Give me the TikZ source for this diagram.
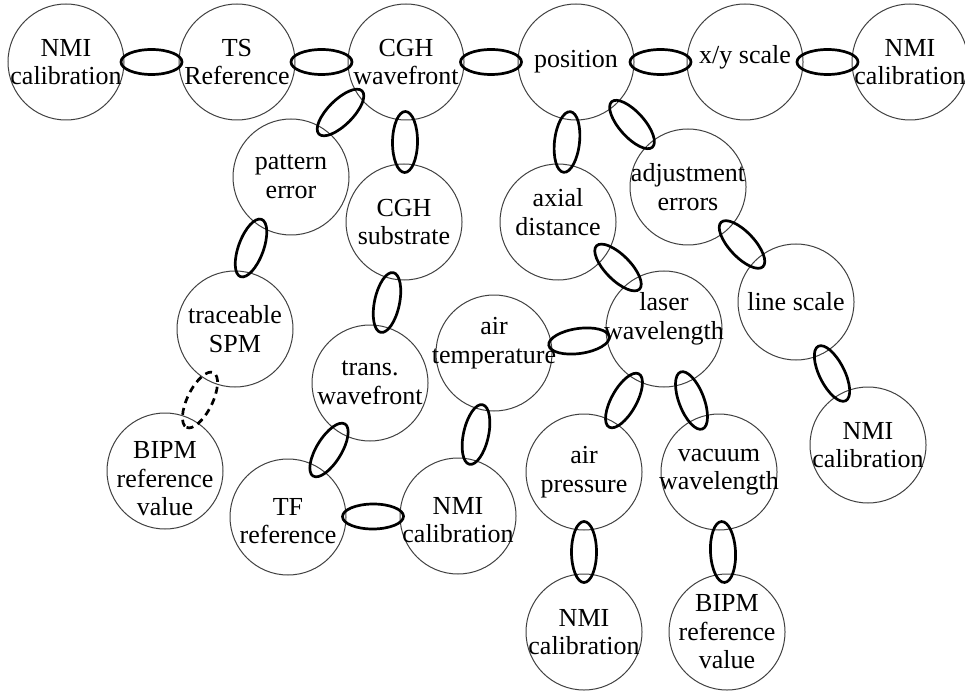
\documentclass[tikz,border=0pt]{standalone}
\usepackage{fontspec}
\setmainfont{Liberation Serif}
\usetikzlibrary{shapes.geometric,calc}
\tikzset{
  ring/.style={circle,draw=black!75,line width=1pt,minimum size=116pt,inner sep=0pt},
  lbl/.style={align=center,inner sep=0pt,font=\fontsize{26}{28.5}\selectfont,text=black},
  lnk/.style={ellipse,draw=black,line width=2.7pt,minimum width=61pt,minimum height=25pt,inner sep=0pt},
  dlnk/.style={dash pattern=on 7pt off 5pt}
}
\newcommand\chainlink[4][]{\path let \p1=($(#4)-(#3)$), \n1={atan2(\y1,\x1)} in node[lnk,#1,rotate=\n1] (#2) at ($(#3)!0.5!(#4)$) {};}
\newcommand\ringnode[4][0]{\node[ring] (#2) at (#3) {};\node[lbl] (#2-t) at ([yshift=#1pt]#2.center) {#4};}
\begin{document}
\begin{tikzpicture}[x=1pt,y=-1pt]
\useasboundingbox[fill=white] (0,0) rectangle (965,692);
% circles
\ringnode{nmiA}{66,62}{NMI\\calibration}
\ringnode{ts}{237,62}{TS\\Reference}
\ringnode{cghw}{406,62}{CGH\\wavefront}
\ringnode{pos}{576,62}{position}
\ringnode[5]{xy}{745,62}{x/y scale}
\ringnode{nmiB}{910,62}{NMI\\calibration}
\ringnode{pat}{291,177}{pattern\\error}
\ringnode{cghs}{404,222}{CGH\\substrate}
\ringnode{spm}{235,329}{traceable\\SPM}
\ringnode[-8]{bipmA}{165,471}{BIPM\\reference\\value}
\ringnode{trw}{370,383}{trans.\\wavefront}
\ringnode[-4]{tf}{288,517}{TF\\reference}
\ringnode[-4]{nmiC}{458,516}{NMI\\calibration}
\ringnode[10]{airt}{494,353}{air\\temperature}
\ringnode[10]{axial}{558,222}{axial\\distance}
\ringnode{adj}{688,187}{adjustment\\errors}
\ringnode[10]{laser}{664,329}{laser\\wavelength}
\ringnode{line}{796,302}{line scale}
\ringnode{nmiD}{868,445}{NMI\\calibration}
\ringnode{airp}{584,472}{air\\pressure}
\ringnode{vac}{719,472}{vacuum\\wavelength}
\ringnode{nmiE}{584,632}{NMI\\calibration}
\ringnode{bipmB}{727,632}{BIPM\\reference\\value}
% links
\chainlink{l1}{nmiA}{ts}
\chainlink{l2}{ts}{cghw}
\chainlink{l3}{cghw}{pos}
\chainlink{l4}{pos}{xy}
\chainlink{l5}{xy}{nmiB}
\chainlink[xshift=-8pt,yshift=7pt]{l6}{cghw}{pat}
\chainlink{l7}{cghw}{cghs}
\chainlink[xshift=-12pt,yshift=5pt]{l8}{pat}{spm}
\chainlink[dlnk]{l9}{spm}{bipmA}
\chainlink{l10}{cghs}{trw}
\chainlink{l11}{trw}{tf}
\chainlink{l12}{tf}{nmiC}
\chainlink{l13}{nmiC}{airt}
\chainlink{l14}{airt}{laser}
\chainlink{l15}{pos}{axial}
\chainlink{l16}{pos}{adj}
\chainlink[xshift=7pt,yshift=8pt]{l17}{axial}{laser}
\chainlink{l18}{adj}{line}
\chainlink{l19}{line}{nmiD}
\chainlink{l20}{laser}{airp}
\chainlink{l21}{laser}{vac}
\chainlink{l22}{airp}{nmiE}
\chainlink{l23}{vac}{bipmB}
\end{tikzpicture}
\end{document}
